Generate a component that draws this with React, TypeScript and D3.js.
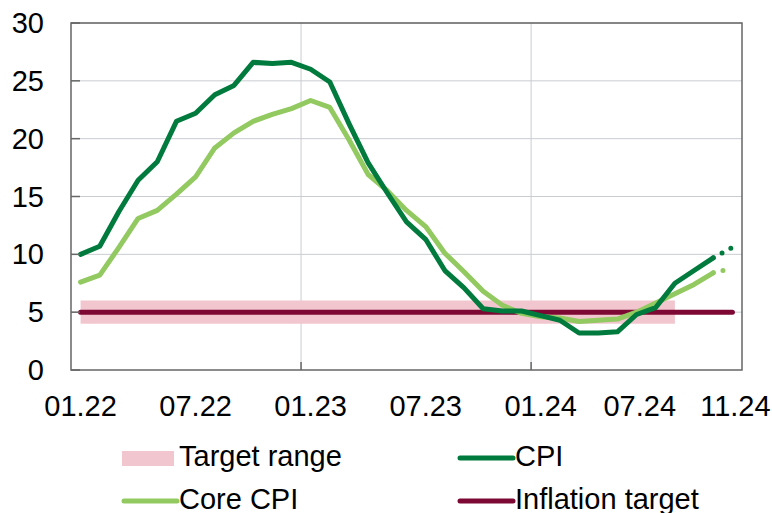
import React, { useEffect, useRef } from "react";
import * as d3 from "d3";

// month categories, Jan 2022 .. Nov 2024
const months = [
  "01.22", "02.22", "03.22", "04.22", "05.22", "06.22", "07.22", "08.22", "09.22", "10.22", "11.22", "12.22",
  "01.23", "02.23", "03.23", "04.23", "05.23", "06.23", "07.23", "08.23", "09.23", "10.23", "11.23", "12.23",
  "01.24", "02.24", "03.24", "04.24", "05.24", "06.24", "07.24", "08.24", "09.24", "10.24", "11.24",
];

// y/y, %; last value of each series is the estimate (dotted)
const cpi = [
  10.0, 10.7, 13.7, 16.4, 18.0, 21.5, 22.2, 23.8, 24.6, 26.6, 26.5, 26.6,
  26.0, 24.9, 21.3, 17.9, 15.3, 12.8, 11.3, 8.6, 7.1, 5.3, 5.1, 5.1,
  4.7, 4.3, 3.2, 3.2, 3.3, 4.8, 5.4, 7.5, 8.6, 9.7, 10.6,
];
const coreCpi = [
  7.6, 8.2, 10.6, 13.1, 13.8, 15.2, 16.7, 19.2, 20.5, 21.5, 22.1, 22.6,
  23.3, 22.7, 19.9, 16.9, 15.5, 13.8, 12.4, 10.1, 8.5, 6.8, 5.6, 4.9,
  4.6, 4.5, 4.2, 4.3, 4.4, 5.0, 5.8, 6.6, 7.4, 8.4, 8.8,
];
const inflationTarget = months.map(() => 5);
const targetRangeMonths = months.slice(0, 32);
const targetLow = 4;
const targetHigh = 6;

const yTicks = [0, 5, 10, 15, 20, 25, 30];
const xTickLabels = ["01.22", "07.22", "01.23", "07.23", "01.24", "07.24", "11.24"];
const xGridMonths = ["01.23", "01.24"];

const FONT = "'Liberation Sans', Arial, sans-serif";
const FS = "29px";

const App = () => {
  const ref = useRef(null);

  useEffect(() => {
    const W = 772;
    const H = 513;
    const margin = { top: 23, right: 30, bottom: 143, left: 71 };
    const width = W - margin.left - margin.right;
    const height = H - margin.top - margin.bottom;

    const root = d3.select(ref.current);
    root.selectAll("*").remove();
    root.attr("width", W).attr("height", H);

    const svg = root.append("g")
      .attr("transform", `translate(${margin.left}, ${margin.top})`);

    const x = d3.scaleBand().domain(months).range([0, width]).padding(0);
    const y = d3.scaleLinear().domain([0, 30]).range([height, 0]);
    const cx = (m) => x(m) + x.bandwidth() / 2;

    // grid
    svg.selectAll(".hgrid")
      .data(yTicks.filter(d => d > 0))
      .enter()
      .append("line")
      .attr("x1", 0)
      .attr("x2", width)
      .attr("y1", d => y(d))
      .attr("y2", d => y(d))
      .attr("stroke", "#c9ccd1")
      .attr("stroke-width", 1);

    svg.selectAll(".vgrid")
      .data(xGridMonths)
      .enter()
      .append("line")
      .attr("x1", d => x(d))
      .attr("x2", d => x(d))
      .attr("y1", 0)
      .attr("y2", height)
      .attr("stroke", "#c9ccd1")
      .attr("stroke-width", 1);

    // target range band
    const band = d3.area()
      .x(d => cx(d))
      .y0(() => y(targetLow))
      .y1(() => y(targetHigh));
    svg.append("path")
      .datum(targetRangeMonths)
      .attr("d", band)
      .attr("fill", "#f2c6ce");

    const line = d3.line()
      .x(d => cx(d[0]))
      .y(d => y(d[1]));

    const series = [
      { values: coreCpi, color: "#92c960" },
      { values: cpi, color: "#007a3d" },
    ];

    // inflation target
    svg.append("path")
      .datum(months.map((m, i) => [m, inflationTarget[i]]))
      .attr("d", line)
      .attr("fill", "none")
      .attr("stroke", "#7d0833")
      .attr("stroke-width", 5)
      .attr("stroke-linecap", "round");

    series.forEach(s => {
      const pts = months.map((m, i) => [m, s.values[i]]);
      const n = pts.length;
      svg.append("path")
        .datum(pts.slice(0, n - 1))
        .attr("d", line)
        .attr("fill", "none")
        .attr("stroke", s.color)
        .attr("stroke-width", 5)
        .attr("stroke-linejoin", "round")
        .attr("stroke-linecap", "round");
      svg.append("path")
        .datum(pts.slice(n - 2))
        .attr("d", line)
        .attr("fill", "none")
        .attr("stroke", s.color)
        .attr("stroke-width", 5)
        .attr("stroke-linecap", "round")
        .attr("stroke-dasharray", "0 10");
    });

    // frame
    svg.append("rect")
      .attr("x", 0)
      .attr("y", 0)
      .attr("width", width)
      .attr("height", height)
      .attr("fill", "none")
      .attr("stroke", "#666")
      .attr("stroke-width", 1.5);

    // y axis ticks (inside) and labels
    svg.selectAll(".ytick")
      .data(yTicks)
      .enter()
      .append("line")
      .attr("x1", 0)
      .attr("x2", 9)
      .attr("y1", d => y(d))
      .attr("y2", d => y(d))
      .attr("stroke", "#666")
      .attr("stroke-width", 1.5);

    svg.selectAll(".ylab")
      .data(yTicks)
      .enter()
      .append("text")
      .attr("x", -27)
      .attr("y", d => y(d))
      .attr("dy", "0.35em")
      .attr("text-anchor", "end")
      .style("font-family", FONT)
      .style("font-size", FS)
      .attr("fill", "#000")
      .text(d => d);

    // x ticks (inside) and labels
    svg.selectAll(".xtick")
      .data(xGridMonths)
      .enter()
      .append("line")
      .attr("x1", d => x(d))
      .attr("x2", d => x(d))
      .attr("y1", height)
      .attr("y2", height - 8)
      .attr("stroke", "#666")
      .attr("stroke-width", 1.5);

    const labelShift = { "07.24": -16, "11.24": 3 };
    svg.selectAll(".xlab")
      .data(xTickLabels)
      .enter()
      .append("text")
      .attr("x", d => cx(d) + (labelShift[d] || 0))
      .attr("y", height + 46)
      .attr("text-anchor", "middle")
      .style("font-family", FONT)
      .style("font-size", FS)
      .attr("fill", "#000")
      .text(d => d);

    // legend
    const legend = root.append("g");
    const items = [
      { label: "Target range", color: "#f2c6ce", kind: "rect", x: 122, y: 458 },
      { label: "CPI", color: "#007a3d", kind: "line", x: 458, y: 458 },
      { label: "Core CPI", color: "#92c960", kind: "line", x: 122, y: 501 },
      { label: "Inflation target", color: "#7d0833", kind: "line", x: 458, y: 501 },
    ];
    items.forEach(it => {
      if (it.kind === "rect") {
        legend.append("rect")
          .attr("x", it.x)
          .attr("y", it.y - 7)
          .attr("width", 52)
          .attr("height", 15)
          .attr("fill", it.color);
      } else {
        legend.append("line")
          .attr("x1", it.x + 2)
          .attr("x2", it.x + 55)
          .attr("y1", it.y)
          .attr("y2", it.y)
          .attr("stroke", it.color)
          .attr("stroke-width", 5)
          .attr("stroke-linecap", "round");
      }
      legend.append("text")
        .attr("x", it.x + 57)
        .attr("y", it.y + 8)
        .style("font-family", FONT)
        .style("font-size", FS)
        .attr("fill", "#000")
        .text(it.label);
    });
  }, []);

  return (
    <svg
      ref={ref}
      style={{ position: "absolute", left: 0, top: 0, background: "#fff" }}
    ></svg>
  );
};

export default App;
